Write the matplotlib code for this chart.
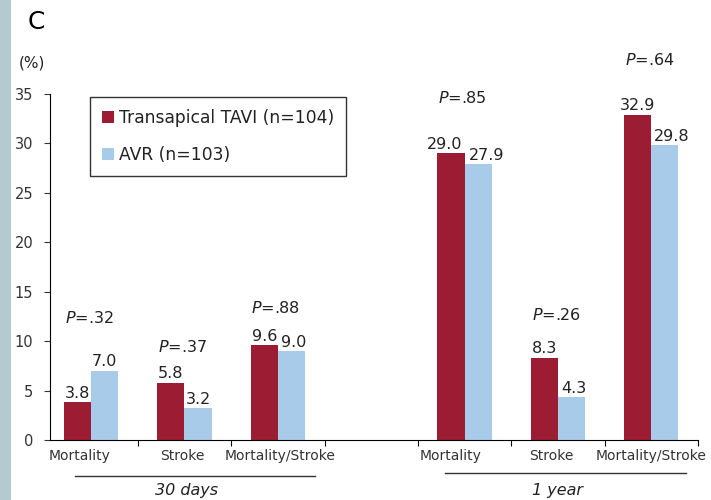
import matplotlib
matplotlib.use("Agg")
import matplotlib.pyplot as plt
from matplotlib.patches import Rectangle
import numpy as np

categories = ["Mortality", "Stroke", "Mortality/Stroke", "", "Mortality", "Stroke", "Mortality/Stroke"]
tavi = [3.8, 5.8, 9.6, None, 29.0, 8.3, 32.9]
avr = [7.0, 3.2, 9.0, None, 27.9, 4.3, 29.8]
tavi_labels = ["3.8", "5.8", "9.6", "", "29.0", "8.3", "32.9"]
avr_labels = ["7.0", "3.2", "9.0", "", "27.9", "4.3", "29.8"]
p_labels = ["P=.32", "P=.37", "P=.88", "", "P=.85", "P=.26", "P=.64"]
p_heights = [12.3, 9.4, 13.4, None, 34.6, 12.6, 38.4]
groups = ["30 days", "1 year"]

# layout-only tweaks (horizontal offsets, in category units)
cat_label_dx = [-0.12, -0.02, 0.02, 0, -0.15, -0.07, 0.0]
tavi_label_dx = [0, 0, 0, 0, -0.07, 0, 0]
avr_label_dx = [0, 0, 0.03, 0, 0.09, 0.03, 0.07]

RED = "#9c1c33"
BLUE = "#a9cbea"
TXT = "#222222"

plt.rcParams['font.family'] = ['DejaVu Sans']
fig = plt.figure(figsize=(7.11, 5.0), dpi=100)
fig.patches.append(Rectangle((0, 0), 11/711, 1, transform=fig.transFigure,
                             facecolor="#b3cbcf", edgecolor="none", zorder=0))
ax = fig.add_axes([50/711, 60/500, (698-50)/711, (440-94)/500])

x = np.arange(len(categories))
w = 0.29
for i in range(len(categories)):
    if tavi[i] is None:
        continue
    ax.bar(x[i] - w/2, tavi[i], w, color=RED, label="Transapical TAVI (n=104)" if i == 0 else None)
    ax.bar(x[i] + w/2, avr[i], w, color=BLUE, label="AVR (n=103)" if i == 0 else None)
    ax.text(x[i] - w/2 + tavi_label_dx[i], tavi[i] + 0.15, tavi_labels[i], ha="center", va="bottom",
            fontsize=11.5, color=TXT)
    ax.text(x[i] + w/2 + avr_label_dx[i], avr[i] + 0.15, avr_labels[i], ha="center", va="bottom",
            fontsize=11.5, color=TXT)
    ax.text(x[i] - 0.02, p_heights[i], r"$\mathit{P}$" + p_labels[i][1:], ha="center", va="center",
            fontsize=11.5, color=TXT, clip_on=False)

ax.set_xlim(-0.44, 6.5)
ax.set_ylim(0, 35)
ax.spines["top"].set_visible(False)
ax.spines["right"].set_visible(False)
ax.set_yticks(np.arange(0, 36, 5))
ax.tick_params(axis="y", labelsize=10.5, length=4, pad=8, colors="#333333")
ax.set_xticks(np.arange(0.5, 7, 1))
ax.set_xticklabels([])
ax.tick_params(axis="x", length=4, direction="out")
for i, c in enumerate(categories):
    if c:
        ax.text(x[i] + cat_label_dx[i], -0.9, c, ha="center", va="top", fontsize=10, color="#333333")

# group underlines and labels
ax.plot([-0.17, 2.40], [-3.64, -3.64], color="#333333", lw=1, clip_on=False)
ax.plot([3.79, 6.37], [-3.34, -3.34], color="#333333", lw=1, clip_on=False)
ax.text(1.02, -5.06, groups[0], ha="center", va="center", fontsize=11.5, style="italic", color=TXT)
ax.text(4.99, -5.06, groups[1], ha="center", va="center", fontsize=11.5, style="italic", color=TXT)

leg = ax.legend(loc="upper left", bbox_to_anchor=(40/648, 0.991), borderaxespad=0, fontsize=12.3,
                frameon=True, fancybox=False, edgecolor="black", handlelength=0.7,
                handleheight=0.7, handletextpad=0.3, labelspacing=1.1, borderpad=0.7)
leg.get_frame().set_linewidth(1.0)
for t in leg.get_texts():
    t.set_color(TXT)

fig.text(36/711, 1 - 22/500, "C", fontsize=18, ha="center", va="center")
fig.text(32/711, 1 - 63/500, "(%)", fontsize=11, ha="center", va="center", color=TXT)

fig.savefig("out.png", dpi=100)
